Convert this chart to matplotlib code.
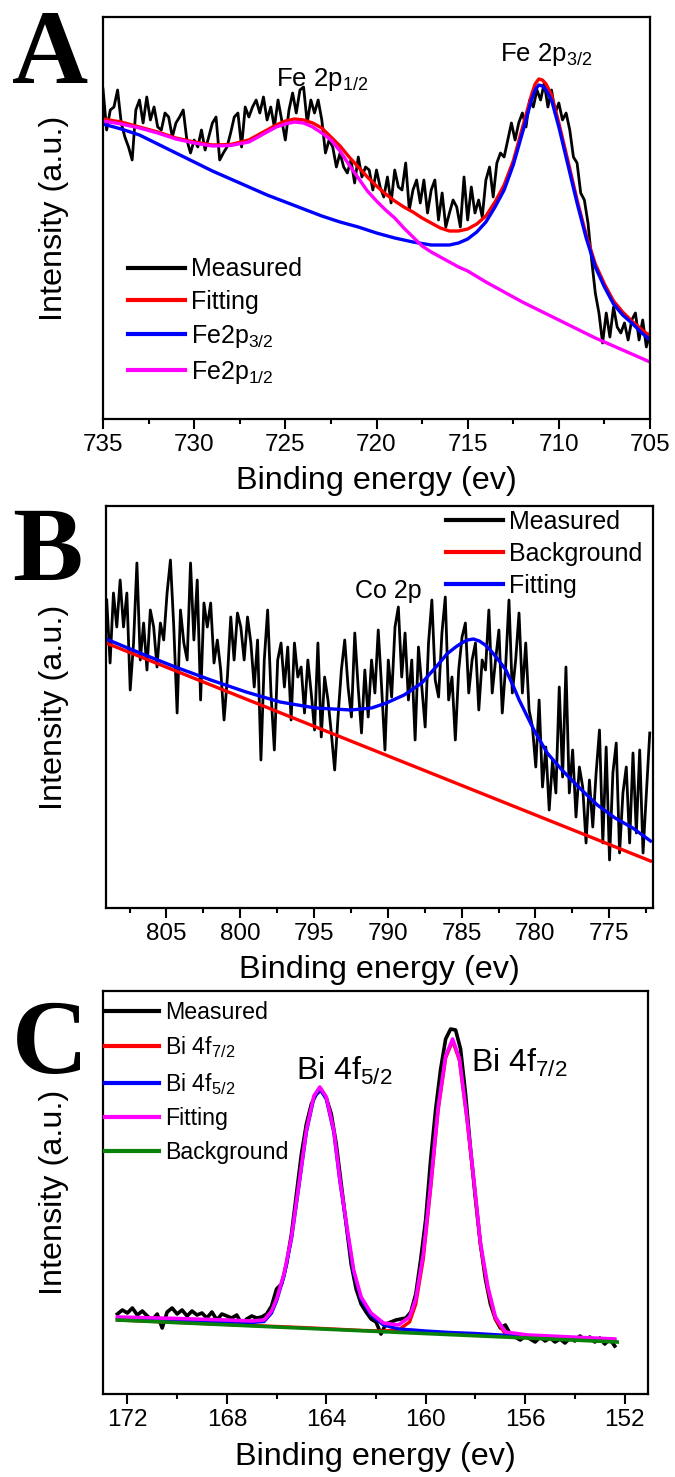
import numpy as np
import matplotlib
matplotlib.use("Agg")
import matplotlib.pyplot as plt
from matplotlib.lines import Line2D
from matplotlib.ticker import MultipleLocator

plt.rcParams['font.family'] = ['Liberation Sans', 'DejaVu Sans']
plt.rcParams['mathtext.fontset'] = 'custom'
plt.rcParams['mathtext.rm'] = 'Liberation Sans'
plt.rcParams['mathtext.it'] = 'Liberation Sans:italic'
plt.rcParams['mathtext.bf'] = 'Liberation Sans:bold'

# ---------------- Panel A : Fe 2p ----------------
a_meas_I = [330,289,309,312,329,296,282,272,259,309,
            319,296,322,299,312,292,289,306,302,282,
            296,302,309,279,266,279,272,289,269,282,
            296,302,259,266,272,286,302,306,272,312,
            302,312,319,306,322,299,312,292,319,299,
            279,309,326,306,329,332,296,319,306,319,
            299,266,279,272,252,266,252,246,259,236,
            262,242,252,249,229,249,232,222,242,216,
            249,232,229,256,209,229,239,216,239,206,
            229,239,199,226,192,206,219,212,192,242,
            199,232,206,219,202,239,252,222,256,266,
            262,279,296,279,296,306,292,319,312,329,
            319,336,312,329,306,316,299,306,289,262,
            256,226,219,196,159,126,106,76,106,82,
            112,92,86,96,79,99,106,79,99,72,
            86]
a_meas_E = np.linspace(735, 705, len(a_meas_I))

a_fit_E = [735,734,733,732,731,730,729,728,727,726.5,726,725.5,725,724.5,724,723.5,723,722.5,722,721.5,
           721,720.5,720,719.5,719,718.5,718,717.5,717,716.5,716,715.5,715,714.5,714,713.5,713,712.5,712,711.5,
           711.3,711.1,710.9,710.7,710.4,710,709.5,709,708.5,708,707.5,707,706.5,706,705.5,705]
a_fit_I = [300,297,292,287,281,277,274,274.5,279,284,289,294,298,300,299,296,291,282,273,262,
           252,242,233,225,218,212,207,201,196,191,188,188,190,195,203,217,234,258,291,324,
           335,340,339,335,324,296,258,219,184,155,135,118,107,98,90,83]

a_p32_E = [735,734,733,732,731,730,729,728,727,726,725,724,723,722,721,720,719,718,717,
           716.5,716,715.5,715,714.5,714,713.5,713,712.5,712,711.5,
           711.3,711.1,710.9,710.7,710.4,710,709.5,709,708.5,708,707.5,707,706.5,706,705.5,705]
a_p32_I = [295,290,284,275,266,257,248,240,232,224,217,210,203,197,192,186,181,177,174,
           174,174,176,180,187,197,212,229,254,286,319,
           329,334,333,329,319,292,254,216,181,152,132,115,104,96,87,79]

a_p12_E = [735,734,733,732,731,730,729,728,727,726.5,726,725.5,725,724.5,724,723.5,723,722.5,722,721.5,
           721,720.5,720,719.5,719,718.5,718,717.5,717,716.5,716,715.5,715,714,713,712,711,710,709,708,
           707,706,705]
a_p12_I = [298,295,291,286,280,276,273,273.5,277,282,287,292,295,297,296,292,286,279,268,254,
           241,228,218,209,201,191,182,173,167,162,157,152,148,137,127,117,108,99,90,81,
           73,65,57]

# ---------------- Panel B : Co 2p ----------------
b_meas_I = [308,245,315,281,328,281,315,218,265,345,
            248,285,238,298,281,241,285,268,315,348,
            281,195,298,265,248,345,268,328,208,305,
            281,305,245,268,238,188,231,291,248,295,
            281,248,291,265,221,268,148,248,298,215,
            158,248,265,221,261,188,265,231,241,195,
            248,215,178,265,171,231,208,175,138,191,
            238,268,221,191,275,221,175,238,191,248,
            215,278,221,158,248,211,281,301,231,275,
            208,248,168,261,221,181,265,308,228,211,
            275,311,208,231,168,238,271,285,215,248,
            265,198,248,238,298,215,248,278,195,241,
            308,215,248,295,215,265,198,181,141,208,
            121,161,98,148,115,221,131,241,115,158,
            91,141,121,65,128,81,135,178,65,161,
            48,135,165,55,115,141,65,155,75,158,
            55,115,175]
b_meas_E = np.linspace(809.05, 772.25, len(b_meas_I))

b_bg_E = [809.1, 772.2]
b_bg_I = [265, 47]

b_fit_E = [809.1,806.8,804.4,802.0,799.6,797.3,794.9,792.5,791.1,790.1,788.9,787.7,786.5,786.0,785.4,785.0,
           784.6,784.2,783.8,783.4,783.0,782.5,782.0,781.5,781.1,780.1,779.2,778.2,777.0,775.8,774.6,773.4,772.2]
b_fit_I = [269,255,241,228,216,206,200,198,200,205,213,225,245,254,261,265,
           268,269,267,263,257,248,238,222,208,178,155,138,120,103,90,80,67]

# ---------------- Panel C : Bi 4f ----------------
c_meas_I = [80,84,81,86,79,83,78,74,80,66,
            82,86,80,84,78,83,79,81,76,82,
            74,80,78,76,79,70,75,78,76,77,
            80,88,105,110,130,160,200,240,270,290,
            300,304,296,280,250,210,170,130,105,90,
            82,75,72,60,70,72,74,75,76,82,
            100,135,175,235,285,325,355,365,364,345,
            300,245,195,150,115,90,75,66,69,60,
            57,54,58,55,52,57,53,56,52,55,
            51,56,53,58,54,57,52,56,50,55,
            48]
c_meas_E = np.linspace(172.4, 152.4, len(c_meas_I))

c_f72_E = [172.4,165,162.5,161.7,161.1,160.65,160.4,160.1,159.8,159.5,159.2,158.92,158.65,158.35,158.05,
           157.8,157.5,157.2,156.8,155.9,152.4]
c_f72_I = [74,66.5,63.5,63,64,72,90,135,206,284,336,353,334,276,209,149,105,75,60,57,53]

c_f52_E = [172.4,167,166.5,166.2,166,165.7,165.4,165.1,164.8,164.5,164.26,164,163.7,163.45,163.15,162.9,
           162.6,162.2,161.7,161.1,160.5,160,159,158,157,156,155,153,152.4]
c_f52_I = [75.5,71.5,72.5,81,93,118,155,208,262,296,305,295,262,212,162,122,
           95,79,69,65,64,63,61.5,60.5,59,57.5,56,53.8,53]

c_fit_E = [172.4,170,168,167,166.5,166.2,166,165.7,165.4,165.1,164.8,164.5,164.26,164,163.7,163.45,163.15,
           162.9,162.6,162.2,161.7,161.1,160.65,160.4,160.1,159.8,159.5,159.2,158.92,158.65,158.35,158.05,
           157.8,157.5,157.2,156.8,155.9,152.4]
c_fit_I = [77,75.5,74,73,74,83,95,120,157,210,264,298,307,297,264,214,164,
           124,97,81,71,69,77,95,140,210,287,338,355,336,278,211,
           151,107,77,62,59,55]

c_bg_E = [172.4, 152.3]
c_bg_I = [74, 52]

# ---------------- styling ----------------
RED, BLUE, MAG, GREEN = '#ff0000', '#0000ff', '#ff00ff', '#0a820a'
TICK_FS = 17.5
LABEL_FS = 23.3

fig = plt.figure(figsize=(6.75, 14.77), dpi=100)


def style_axis(ax, xlim, major, minor, ylim):
    ax.set_xlim(*xlim)
    ax.set_ylim(*ylim)
    ax.xaxis.set_major_locator(MultipleLocator(major))
    ax.xaxis.set_minor_locator(MultipleLocator(minor))
    ax.tick_params(axis='x', which='major', direction='out', length=7.5, width=1.5,
                   labelsize=TICK_FS, pad=3, top=False)
    ax.tick_params(axis='x', which='minor', direction='out', length=3.8, width=1.5, top=False)
    ax.tick_params(axis='y', which='both', left=False, right=False, labelleft=False)
    for s in ax.spines.values():
        s.set_linewidth(1.6)
    ax.set_xlabel('Binding energy (ev)', fontsize=LABEL_FS)
    ax.set_ylabel('Intensity (a.u.)', fontsize=LABEL_FS)
    ax.xaxis.set_label_coords(0.5, -0.118)


# Panel A
axA = fig.add_axes([103/675, 1 - 419/1477, 547/675, 402/1477])
axA.plot(a_meas_E, a_meas_I, color='black', lw=2.0)
axA.plot(a_fit_E, a_fit_I, color=RED, lw=2.4)
axA.plot(a_p32_E, a_p32_I, color=BLUE, lw=2.4)
axA.plot(a_p12_E, a_p12_I, color=MAG, lw=2.4)
style_axis(axA, (735, 705), 5, 2.5, (0, 402))
axA.yaxis.set_label_coords(-0.062, 0.5)
axA.text(725.5, 333, 'Fe 2p$_{1/2}$', fontsize=18.5, ha='left', va='baseline')
axA.text(713.2, 357.5, 'Fe 2p$_{3/2}$', fontsize=18.5, ha='left', va='baseline')
hA = [Line2D([], [], color=c, lw=3.0) for c in ('black', RED, BLUE, MAG)]
axA.legend(hA, ['Measured', 'Fitting', 'Fe2p$_{3/2}$', 'Fe2p$_{1/2}$'],
           loc='upper left', bbox_to_anchor=(0.045, 0.402), frameon=False, fontsize=18,
           handlelength=2.3, handletextpad=0.25, labelspacing=0.35, borderpad=0, borderaxespad=0)

# Panel B
axB = fig.add_axes([106/675, 1 - 908/1477, 546.7/675, 402/1477])
axB.plot(b_meas_E, b_meas_I, color='black', lw=2.0)
axB.plot(b_bg_E, b_bg_I, color=RED, lw=2.4)
axB.plot(b_fit_E, b_fit_I, color=BLUE, lw=2.4)
style_axis(axB, (809.1, 772.05), 5, 2.5, (0, 402))
axB.yaxis.set_label_coords(-0.068, 0.5)
axB.text(792.2, 310, 'Co 2p', fontsize=18, ha='left', va='baseline')
hB = [Line2D([], [], color=c, lw=3.0) for c in ('black', RED, BLUE)]
axB.legend(hB, ['Measured', 'Background', 'Fitting'],
           loc='upper left', bbox_to_anchor=(0.621, 0.99), frameon=False, fontsize=18,
           handlelength=2.3, handletextpad=0.25, labelspacing=0.32, borderpad=0, borderaxespad=0)

# Panel C
axC = fig.add_axes([102.5/675, 1 - 1394/1477, 545.8/675, 403/1477])
axC.plot(c_meas_E, c_meas_I, color='black', lw=2.6)
axC.plot(c_f72_E, c_f72_I, color=RED, lw=2.4)
axC.plot(c_f52_E, c_f52_I, color=BLUE, lw=2.4)
axC.plot(c_fit_E, c_fit_I, color=MAG, lw=2.6)
axC.plot(c_bg_E, c_bg_I, color=GREEN, lw=2.6)
style_axis(axC, (173.0, 151.05), 4, 2, (0, 403))
axC.yaxis.set_label_coords(-0.062, 0.5)
axC.text(165.2, 314, 'Bi 4f$_{5/2}$', fontsize=23, ha='left', va='baseline')
axC.text(158.17, 322, 'Bi 4f$_{7/2}$', fontsize=23, ha='left', va='baseline')
hC = [Line2D([], [], color=c, lw=3.0) for c in ('black', RED, BLUE, MAG, GREEN)]
axC.legend(hC, ['Measured', 'Bi 4f$_{7/2}$', 'Bi 4f$_{5/2}$', 'Fitting', 'Background'],
           loc='upper left', bbox_to_anchor=(0.004, 0.975), frameon=False, fontsize=16.7,
           handlelength=2.35, handletextpad=0.25, labelspacing=0.45, borderpad=0, borderaxespad=0)

# Panel letters
for letter, base in (('A', 83), ('B', 580), ('C', 1073)):
    fig.text(12/675, 1 - base/1477, letter, fontsize=76, fontweight='bold',
             family='Liberation Serif', ha='left', va='baseline')

fig.savefig('out.png', dpi=100)
